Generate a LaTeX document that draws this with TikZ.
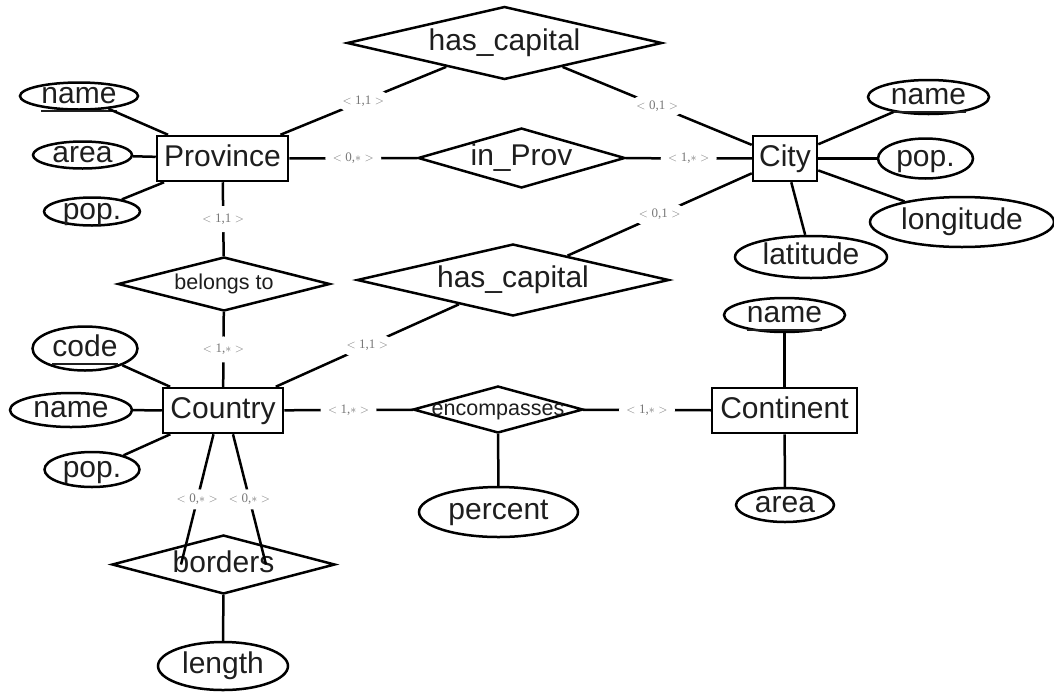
\documentclass[tikz,border=0pt]{standalone}
\usepackage{fontspec}
\setmainfont{Liberation Sans}
\newfontfamily\cardfont{Liberation Serif}
\usetikzlibrary{shapes.geometric,calc}

\definecolor{ink}{RGB}{30,30,30}
\definecolor{cardgray}{RGB}{120,120,120}

% key attribute: text with a thick rule under it
\newcommand\keyattr[1]{\setbox0=\hbox{#1}\rlap{\rule[-8.5pt]{\wd0}{2pt}}\box0}
% cardinality pair < min,max >
\newcommand\mult[2]{\makebox[0pt]{$<$\hspace{3.5pt}#1,#2\hspace{3.5pt}$>$}}

\tikzset{
  conn/.style={line width=2.5pt},
  bigtext/.style={font=\fontsize{30}{31}\selectfont, text=ink, text height=15.5pt, text depth=0pt},
  smalltext/.style={font=\fontsize{21.5}{22}\selectfont, text=ink, text height=11pt, text depth=0pt},
  entity/.style={draw, rectangle, line width=2.5pt, inner sep=0pt, bigtext},
  attr/.style={draw, ellipse, line width=2.5pt, inner sep=0pt, bigtext},
  rel/.style={draw, diamond, line width=2.5pt, inner sep=0pt, bigtext},
  relsmall/.style={rel, smalltext},
  sz/.style 2 args={minimum width=#1, minimum height=#2},
  card/.style={midway, ellipse, fill=white, inner sep=0pt, minimum width=56pt,
    minimum height=26pt, font=\cardfont\fontsize{13}{14}\selectfont, text=cardgray},
  cardsteep/.style={card, minimum height=20pt}
}

\begin{document}
\begin{tikzpicture}[x=1pt,y=-1pt]
\useasboundingbox[fill=white] (0,0) rectangle (1054,691);

% entities
\node[entity, sz={131pt}{45pt}] (prov)    at (222.5,158.5) {Province};
\node[entity, sz={64pt}{45pt}]  (city)    at (785,158.5)   {City};
\node[entity, sz={120pt}{45pt}] (country) at (223,410.5)   {Country};
\node[entity, sz={145pt}{45pt}] (cont)    at (784.5,410.5) {Continent};

% relationships
\node[rel, sz={315pt}{73pt}]      (hctop)   at (504.5,43)  {\makebox[0pt]{has\_capital}};
\node[rel, sz={207pt}{60pt}]      (inprov)  at (521.5,158) {\makebox[0pt]{in\_Prov}};
\node[rel, sz={312pt}{72pt}]      (hcmid)   at (513,280)   {\makebox[0pt]{has\_capital}};
\node[relsmall, sz={212pt}{54pt}] (belongs) at (224,284)   {\makebox[0pt]{belongs to}};
\node[relsmall, sz={170pt}{47pt}] (encomp)  at (498,409.5) {\makebox[0pt]{encompasses}};
\node[rel, sz={223pt}{59pt}]      (borders) at (223.5,564.5) {\makebox[0pt]{borders}};

% attributes
\node[attr, sz={118pt}{27pt}] (pname)  at (79,96)      {\keyattr{name}};
\node[attr, sz={99pt}{27pt}]  (parea)  at (82.5,155)   {area};
\node[attr, sz={96pt}{28pt}]  (ppop)   at (92,211.5)   {pop.};
\node[attr, sz={121pt}{34pt}] (cname)  at (928.5,97)   {\keyattr{name}};
\node[attr, sz={95pt}{40pt}]  (cpop)   at (925.5,158.5) {pop.};
\node[attr, sz={184pt}{50pt}] (clong)  at (962,222)    {longitude};
\node[attr, sz={152pt}{42pt}] (clat)   at (811,257)    {latitude};
\node[attr, sz={105pt}{44pt}] (kcode)  at (85,348.5)   {\keyattr{code}};
\node[attr, sz={122pt}{34pt}] (kname)  at (71,410)     {name};
\node[attr, sz={95pt}{35pt}]  (kpop)   at (92,469.5)   {pop.};
\node[attr, sz={121pt}{34pt}] (ctname) at (784.5,315)  {\keyattr{name}};
\node[attr, sz={98pt}{34pt}]  (ctarea) at (785,505)    {area};
\node[attr, sz={159pt}{50pt}] (pct)    at (498.5,512)  {percent};
\node[attr, sz={130pt}{48pt}] (len)    at (223,666)    {length};

% attribute links
\draw[conn] (pname) -- (prov);
\draw[conn] (parea) -- (prov);
\draw[conn] (ppop) -- (prov);
\draw[conn] (cname) -- (city);
\draw[conn] (cpop) -- (city);
\draw[conn] (clong) -- (city);
\draw[conn] (clat) -- (city);
\draw[conn] (kcode) -- (country);
\draw[conn] (kname) -- (country);
\draw[conn] (kpop) -- (country);
\draw[conn] (ctname) -- (cont);
\draw[conn] (ctarea) -- (cont);
\draw[conn] (pct) -- (encomp);
\draw[conn] (len) -- (borders);

% relationship links with cardinalities
\draw[conn] (prov) -- (hctop) node[card] (c1) {\mult{1}{1}};
\draw[conn] (hctop) -- (city) node[card] (c2) {\mult{0}{1}};
\draw[conn] (prov) -- (inprov) node[card] (c3) {\mult{0}{$\ast$}};
\draw[conn] (inprov) -- (city) node[card] (c4) {\mult{1}{$\ast$}};
\draw[conn] (city) -- (hcmid) node[card] (c5) {\mult{0}{1}};
\draw[conn] (hcmid) -- (country) node[card] (c6) {\mult{1}{1}};
\draw[conn] (prov) -- (belongs) node[card] (c7) {\mult{1}{1}};
\draw[conn] (belongs) -- (country) node[card] (c8) {\mult{1}{$\ast$}};
\draw[conn] (country) -- (encomp) node[card] (c9) {\mult{1}{$\ast$}};
\draw[conn] (encomp) -- (cont) node[card] (c10) {\mult{1}{$\ast$}};

% the two roles of borders
\coordinate (bs1) at ($(country.south)+(-9.5,0)$);
\coordinate (bs2) at ($(country.south)+(10,0)$);
\coordinate (be1) at ($(borders.center)+(-42.5,0)$);
\coordinate (be2) at ($(borders.center)+(42.5,0)$);
\draw[conn] (bs1) -- (be1) node[cardsteep] (c11) {\mult{0}{$\ast$}};
\draw[conn] (bs2) -- (be2) node[cardsteep] (c12) {\mult{0}{$\ast$}};
\end{tikzpicture}
\end{document}
